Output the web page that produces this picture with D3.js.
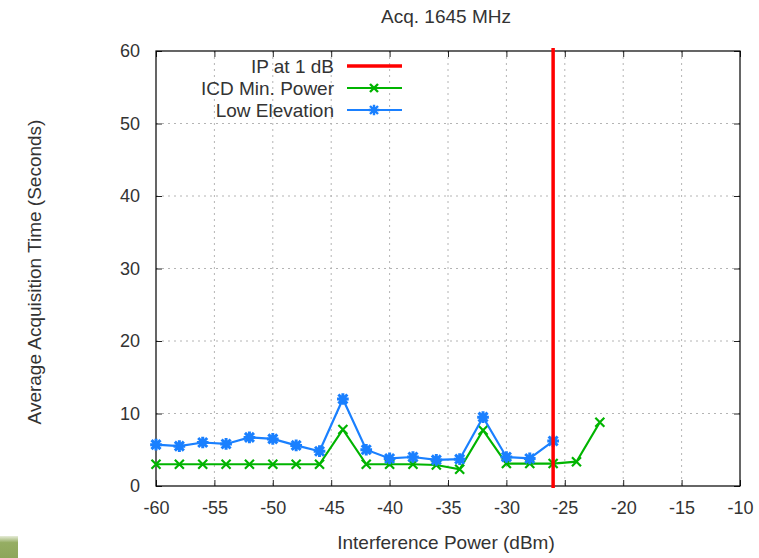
<!DOCTYPE html>
<html>
<head>
<meta charset="utf-8">
<script src="https://cdn.jsdelivr.net/npm/d3@7"></script>
<style>
  body { margin: 0; background: #fff; }
  text { font-family: "Liberation Sans", Arial, sans-serif; fill: #333; }
</style>
</head>
<body>
<div class="container"></div>
<script>
// data
const ipLine = -26;
const icdX = [-60, -58, -56, -54, -52, -50, -48, -46, -44, -42, -40, -38, -36, -34, -32, -30, -28, -26, -24, -22];
const icdY = [3.0, 3.0, 3.0, 3.0, 3.0, 3.0, 3.0, 3.0, 7.8, 3.0, 3.0, 3.0, 2.9, 2.3, 7.7, 3.1, 3.1, 3.1, 3.35, 8.8];
const lowX = [-60, -58, -56, -54, -52, -50, -48, -46, -44, -42, -40, -38, -36, -34, -32, -30, -28, -26];
const lowY = [5.7, 5.5, 6.0, 5.8, 6.7, 6.5, 5.6, 4.8, 12.0, 5.0, 3.8, 4.0, 3.6, 3.7, 9.5, 4.0, 3.8, 6.2];
const xTicks = [-60, -55, -50, -45, -40, -35, -30, -25, -20, -15, -10];
const yTicks = [0, 10, 20, 30, 40, 50, 60];

const W = 759, H = 558;
const margin = ({top: 51, right: 19, bottom: 72, left: 156});
const width = W - margin.left - margin.right,
      height = H - margin.top - margin.bottom;

const root = d3.select(".container").append("svg")
  .attr("width", W).attr("height", H);

// little olive swatch bottom-left
const grad = root.append("defs").append("linearGradient")
  .attr("id", "sw").attr("x1", 0).attr("y1", 0).attr("x2", 0).attr("y2", 1);
grad.append("stop").attr("offset", "0").attr("stop-color", "#e6ecd8");
grad.append("stop").attr("offset", "0.3").attr("stop-color", "#95ad63");
grad.append("stop").attr("offset", "1").attr("stop-color", "#8ea65a");
root.append("rect").attr("x", 0).attr("y", 536).attr("width", 18).attr("height", 22)
  .attr("fill", "url(#sw)");

const svg = root.append("g")
  .attr("transform", `translate(${margin.left},${margin.top})`);

const xScale = d3.scaleLinear().domain([-60, -10]).range([0, width]);
const yScale = d3.scaleLinear().domain([0, 60]).range([height, 0]);

// grid
svg.append("g").selectAll("line").data(xTicks.slice(1, -1)).join("line")
  .attr("x1", d => xScale(d)).attr("x2", d => xScale(d))
  .attr("y1", 0).attr("y2", height)
  .attr("stroke", "#b4b4b4").attr("stroke-dasharray", "2,4");
svg.append("g").selectAll("line").data(yTicks.slice(1, -1)).join("line")
  .attr("y1", d => yScale(d)).attr("y2", d => yScale(d))
  .attr("x1", 0).attr("x2", width)
  .attr("stroke", "#b4b4b4").attr("stroke-dasharray", "2,4");

// axes with inward ticks
const tk = 6;
const fmt = d => String(d);   // plain hyphen minus as in the original
const xAxis = d3.axisBottom(xScale).tickValues(xTicks).tickSize(-tk).tickPadding(15).tickFormat(fmt);
const yAxis = d3.axisLeft(yScale).tickValues(yTicks).tickSize(-tk).tickPadding(16).tickFormat(fmt);
const gx = svg.append("g").attr("transform", `translate(0,${height})`).call(xAxis);
const gy = svg.append("g").call(yAxis);
svg.append("g").call(d3.axisTop(xScale).tickValues(xTicks).tickSize(-tk).tickFormat(""));
svg.append("g").attr("transform", `translate(${width},0)`)
  .call(d3.axisRight(yScale).tickValues(yTicks).tickSize(-tk).tickFormat(""));
svg.selectAll(".domain").remove();
svg.selectAll(".tick line").attr("stroke", "#222");
[gx, gy].forEach(g => g.selectAll("text")
  .style("font-size", "18px").style("font-family", "Liberation Sans, Arial, sans-serif")
  .attr("fill", "#333"));

svg.append("rect").attr("width", width).attr("height", height)
  .attr("fill", "none").attr("stroke", "#000").attr("stroke-width", 1.2);

// series
const line = d3.line().x(d => xScale(d[0])).y(d => yScale(d[1]));
const icd = d3.zip(icdX, icdY);
const low = d3.zip(lowX, lowY);

function crossPath(s) { return `M${-s},${-s}L${s},${s}M${-s},${s}L${s},${-s}`; }
function starPath(s) { return crossPath(s) + `M0,${-s * 1.3}L0,${s * 1.3}M${-s * 1.3},0L${s * 1.3},0`; }

svg.append("path").datum(icd).attr("fill", "none").attr("stroke", "#00b400")
  .attr("stroke-width", 2.2).attr("d", line);
svg.append("g").selectAll("path").data(icd).join("path")
  .attr("transform", d => `translate(${xScale(d[0])},${yScale(d[1])})`)
  .attr("d", crossPath(4.5)).attr("stroke", "#00b400").attr("stroke-width", 2.2).attr("fill", "none");

svg.append("path").datum(low).attr("fill", "none").attr("stroke", "#1a80ff")
  .attr("stroke-width", 2.2).attr("d", line);
svg.append("g").selectAll("path").data(low).join("path")
  .attr("transform", d => `translate(${xScale(d[0])},${yScale(d[1])})`)
  .attr("d", starPath(4.5)).attr("stroke", "#1a80ff").attr("stroke-width", 3).attr("fill", "none");

// IP at 1 dB
svg.append("line")
  .attr("x1", xScale(ipLine)).attr("x2", xScale(ipLine))
  .attr("y1", -3).attr("y2", height + 2)
  .attr("stroke", "#ff0000").attr("stroke-width", 3.5);

// legend
const legend = [
  {label: "IP at 1 dB", color: "#ff0000", mark: null, w: 3.5},
  {label: "ICD Min. Power", color: "#00b400", mark: crossPath(4), w: 2.2},
  {label: "Low Elevation", color: "#1a80ff", mark: starPath(4), w: 2.2}
];
const lg = svg.append("g").attr("transform", "translate(0,15)");
legend.forEach((l, i) => {
  const row = lg.append("g").attr("transform", `translate(0,${i * 22})`);
  row.append("text").attr("x", 178).attr("y", 0).attr("dy", "0.35em")
    .attr("text-anchor", "end").style("font-size", "19px").text(l.label);
  row.append("line").attr("x1", 191).attr("x2", 246).attr("y1", 0).attr("y2", 0)
    .attr("stroke", l.color).attr("stroke-width", l.w);
  if (l.mark) row.append("path").attr("transform", "translate(218,0)")
    .attr("d", l.mark).attr("stroke", l.color).attr("stroke-width", 2.4).attr("fill", "none");
});

// titles
root.append("text").attr("x", 446).attr("y", 23).attr("text-anchor", "middle")
  .style("font-size", "19px").text("Acq. 1645 MHz");
root.append("text").attr("x", 446).attr("y", 549).attr("text-anchor", "middle")
  .style("font-size", "19px").text("Interference Power (dBm)");
root.append("text").attr("transform", "translate(41,272) rotate(-90)")
  .attr("text-anchor", "middle").style("font-size", "19px")
  .text("Average Acquisition Time (Seconds)");
</script>
</body>
</html>
